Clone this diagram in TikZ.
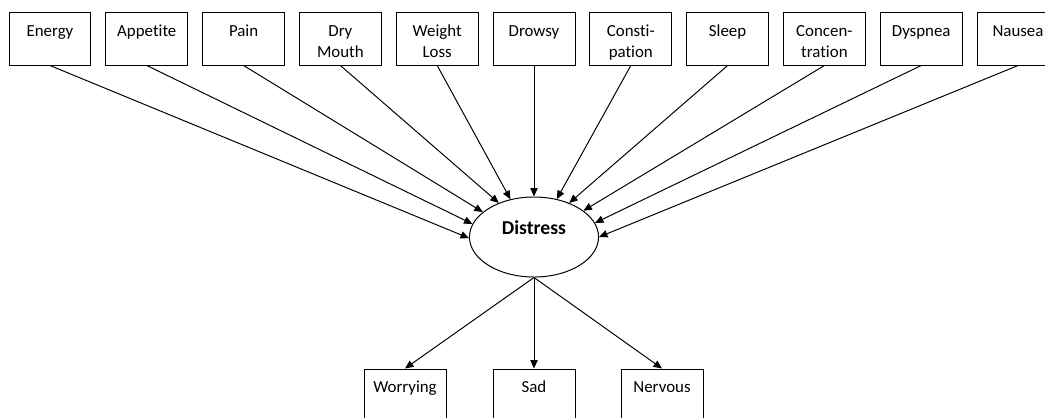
\documentclass[tikz,border=0pt]{standalone}
\usepackage{fontspec}
\setmainfont{Carlito}[Ligatures={NoCommon,NoContextual}]
\usetikzlibrary{arrows.meta,shapes.geometric}

\begin{document}
\begin{tikzpicture}[x=0.025cm, y=-0.025cm,
    box/.style={draw, rectangle, line width=0.7pt, align=center, text width=58.3pt, inner xsep=0pt, inner ysep=0pt, text height=16.4pt, text depth=20.6pt, font=\fontsize{12}{15}\selectfont},
    latent/.style={draw, ellipse, line width=0.7pt, minimum width=91.8pt, minimum height=56.9pt, text height=10pt, text depth=14.2pt, font=\fontsize{14}{17}\selectfont\bfseries},
    link/.style={-{Triangle[length=6pt,width=5.2pt]}, line width=0.7pt}]
    \clip (0,0) rectangle (1045,417);

    % Symptom boxes
    \node[box] at (50,39) (energy) {Energy};
    \node[box] at (146.8,39) (appetite) {Appetite};
    \node[box] at (243.6,39) (pain) {Pain};
    \node[box] at (340.4,39) (mouth) {Dry\\Mouth};
    \node[box] at (437.2,39) (weight) {Weight\\Loss};
    \node[box] at (534,39) (drowsy) {Drowsy};
    \node[box] at (630.8,39) (constip) {Consti-\\pation};
    \node[box] at (727.6,39) (sleep) {Sleep};
    \node[box] at (824.4,39) (concent) {Concen-\\tration};
    \node[box] at (921.2,39) (dyspnea) {Dyspnea};
    \node[box] at (1018,39) (nausea) {Nausea};

    % Latent factor
    \node[latent] at (534,237) (distress) {Distress};

    % Indicator boxes
    \node[box] at (405,395) (worrying) {Worrying};
    \node[box] at (534,395) (sad) {Sad};
    \node[box] at (662,395) (nervous) {Nervous};

    % Arrows
    \draw[link] (energy.south) -- (distress.181);
    \draw[link] (appetite.south) -- (distress.168);
    \draw[link] (pain.south) -- (distress.154);
    \draw[link] (mouth.south) -- (distress.136);
    \draw[link] (weight.south) -- (distress.122);
    \draw[link] (drowsy.south) -- (distress.north);
    \draw[link] (constip.south) -- (distress.59);
    \draw[link] (sleep.south) -- (distress.44);
    \draw[link] (concent.south) -- (distress.28);
    \draw[link] (dyspnea.south) -- (distress.13);
    \draw[link] (nausea.south) -- (distress.0);
    \draw[link] (distress.south) -- (worrying.north);
    \draw[link] (distress.south) -- (sad.north);
    \draw[link] (distress.south) -- (nervous.north);
\end{tikzpicture}
\end{document}
